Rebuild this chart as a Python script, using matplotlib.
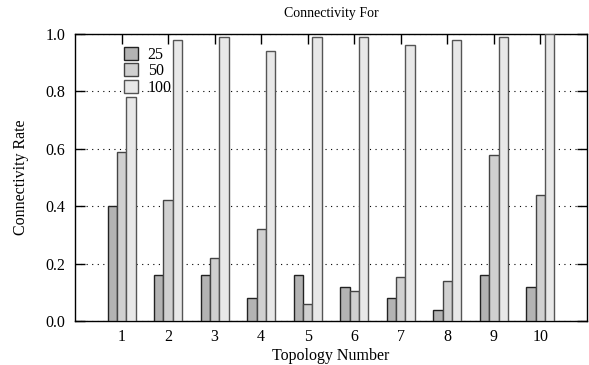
import matplotlib
matplotlib.use("Agg")
import matplotlib.pyplot as plt
import numpy as np

topologies = [1, 2, 3, 4, 5, 6, 7, 8, 9, 10]
series_labels = ["25", "50", "100"]
rate_25 = [0.40, 0.16, 0.16, 0.08, 0.16, 0.12, 0.08, 0.04, 0.16, 0.12]
rate_50 = [0.59, 0.42, 0.22, 0.32, 0.06, 0.105, 0.155, 0.14, 0.58, 0.44]
rate_100 = [0.78, 0.98, 0.99, 0.94, 0.99, 0.99, 0.96, 0.98, 0.99, 1.00]
y_ticks = [0.0, 0.2, 0.4, 0.6, 0.8, 1.0]

plt.rcParams["font.family"] = ["Liberation Serif", "DejaVu Serif"]
plt.rcParams["font.size"] = 11.5

fig = plt.figure(figsize=(5.89, 3.65), dpi=100)
ax = fig.add_axes([75 / 589, 1 - 321 / 365, 512 / 589, 287 / 365])

x = np.array(topologies, dtype=float)
width = 0.2
colors = ["#b3b3b3", "#d0d0d0", "#e8e8e8"]
edges = ["#222222", "#444444", "#555555"]
for i, (vals, lab) in enumerate(zip([rate_25, rate_50, rate_100], series_labels)):
    ax.bar(x + (i - 1) * width, vals, width, color=colors[i], edgecolor=edges[i],
           linewidth=1.0, label=lab, zorder=3)

ax.set_xlim(0, 11)
ax.set_ylim(0, 1.0)
ax.set_xticks(topologies)
ax.set_yticks(y_ticks)
ax.set_yticklabels([f"{t:.1f}" for t in y_ticks])
ax.tick_params(direction="in", top=True, right=True, length=7, width=1)
ax.tick_params(axis="x", pad=6)
ax.tick_params(axis="y", pad=7)
ax.yaxis.grid(True, linestyle=(0, (1, 4)), color="black", linewidth=0.8, zorder=0)
for s in ax.spines.values():
    s.set_linewidth(1.0)

ax.set_title("Connectivity For", fontsize=10, pad=12)
ax.set_xlabel("Topology Number", labelpad=2)
ax.set_ylabel("Connectivity Rate", labelpad=12)

ax.legend(loc="upper left", bbox_to_anchor=(0.07, 1.0), frameon=False,
          handlelength=0.9, handleheight=0.9, handletextpad=0.6,
          labelspacing=0.02, borderaxespad=0.4)

fig.savefig("out.png", dpi=100)
